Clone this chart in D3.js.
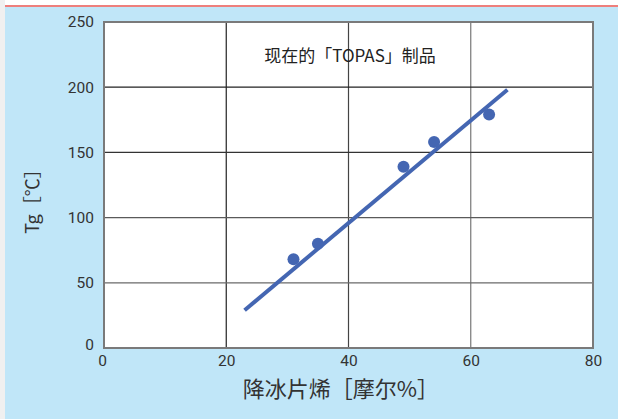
<!DOCTYPE html>
<html>
<head>
<meta charset="utf-8">
<script src="https://cdn.jsdelivr.net/npm/d3@7"></script>
<style>
  html, body { margin: 0; padding: 0; background: #ffffff; }
  svg { display: block; }
</style>
</head>
<body>
<div id="chart"></div>
<script>
// Norbornene content (mol%) vs glass transition temperature of TOPAS grades
const norborneneMol = [31, 35, 49, 54, 63];
const tgValues = [68, 80, 139, 158, 179];
// Trend line end points
const trendX = [23, 66];
const trendY = [29, 198];
const xTicks = [0, 20, 40, 60, 80];
const yTicks = [0, 50, 100, 150, 200, 250];
const titleText = "现在的「TOPAS」制品";
const xAxisTitle = "降冰片烯［摩尔%］";
const yAxisTitle = "Tg［℃］";

const W = 618, H = 419;
const svg = d3.select("#chart").append("svg")
  .attr("width", W).attr("height", H);

// page background pieces
svg.append("rect").attr("x", 0).attr("y", 0).attr("width", W).attr("height", H).attr("fill", "#ffffff");
svg.append("rect").attr("x", 0).attr("y", 0).attr("width", 5).attr("height", H).attr("fill", "#f0f0f0");
svg.append("rect").attr("x", 5).attr("y", 7).attr("width", W - 5).attr("height", H - 7).attr("fill", "#c0e6f8");
svg.append("line").attr("x1", 5).attr("x2", W).attr("y1", 6).attr("y2", 6)
  .attr("stroke", "#e85450").attr("stroke-width", 1.5);

const plot = { left: 104, right: 593, top: 22, bottom: 348 };
const x = d3.scaleLinear().domain([0, 80]).range([plot.left, plot.right]);
const y = d3.scaleLinear().domain([0, 250]).range([plot.bottom, plot.top]);

svg.append("rect")
  .attr("x", plot.left).attr("y", plot.top)
  .attr("width", plot.right - plot.left).attr("height", plot.bottom - plot.top)
  .attr("fill", "#ffffff");

// grid lines
svg.append("g").selectAll("line")
  .data(xTicks.filter(d => d > 0 && d < 80))
  .join("line")
  .attr("x1", d => x(d)).attr("x2", d => x(d))
  .attr("y1", plot.top).attr("y2", plot.bottom)
  .attr("stroke", (d, i) => ["#222", "#444", "#777"][i])
  .attr("stroke-width", 1.2);
svg.append("g").selectAll("line")
  .data(yTicks.filter(d => d > 0 && d < 250))
  .join("line")
  .attr("x1", plot.left).attr("x2", plot.right)
  .attr("y1", d => y(d)).attr("y2", d => y(d))
  .attr("stroke", (d, i) => ["#6a6a6a", "#5a5a5a", "#333", "#222"][i])
  .attr("stroke-width", 1.2);

// frame
svg.append("rect")
  .attr("x", plot.left).attr("y", plot.top)
  .attr("width", plot.right - plot.left).attr("height", plot.bottom - plot.top)
  .attr("fill", "none").attr("stroke", "#7a7a7a").attr("stroke-width", 2);

// axes (labels only)
const tickFont = "Roboto, 'Liberation Sans', sans-serif";
const xAxis = svg.append("g")
  .attr("transform", `translate(0,${plot.bottom})`)
  .call(d3.axisBottom(x).tickValues(xTicks).tickSize(0).tickPadding(7));
xAxis.select(".domain").remove();
xAxis.selectAll("text").attr("font-size", 15.5).attr("fill", "#333").attr("font-family", tickFont)
  .attr("dx", d => d === 0 ? -2 : 0);

const yAxis = svg.append("g")
  .attr("transform", `translate(${plot.left},0)`)
  .call(d3.axisLeft(y).tickValues(yTicks).tickSize(0).tickPadding(10));
yAxis.select(".domain").remove();
yAxis.selectAll("text").attr("font-size", 15.5).attr("fill", "#333").attr("font-family", tickFont)
  .attr("dy", (d) => d === 0 ? "0.1em" : "0.32em");

// trend line
const lineGen = d3.line().x(d => x(d[0])).y(d => y(d[1]));
svg.append("path")
  .datum(d3.zip(trendX, trendY))
  .attr("d", lineGen)
  .attr("fill", "none")
  .attr("stroke", "#4466b2")
  .attr("stroke-width", 4);

// data points
svg.append("g").selectAll("circle")
  .data(d3.zip(norborneneMol, tgValues))
  .join("circle")
  .attr("cx", d => x(d[0])).attr("cy", d => y(d[1]))
  .attr("r", 6)
  .attr("fill", "#4466b2");

// in-plot title
svg.append("text")
  .attr("x", 350).attr("y", 62)
  .attr("text-anchor", "middle")
  .attr("font-family", "'Noto Sans CJK JP', sans-serif")
  .attr("font-size", 17)
  .attr("fill", "#222")
  .text(titleText);

// axis titles
svg.append("text")
  .attr("x", 341).attr("y", 397)
  .attr("text-anchor", "middle")
  .attr("font-family", "'Noto Sans CJK JP', sans-serif")
  .attr("font-size", 22)
  .attr("fill", "#333")
  .text(xAxisTitle);

svg.append("text")
  .attr("transform", "translate(39,197) rotate(-90)")
  .attr("text-anchor", "middle")
  .attr("font-family", "'Noto Sans CJK JP', sans-serif")
  .attr("font-size", 18)
  .attr("fill", "#333")
  .text(yAxisTitle);
</script>
</body>
</html>
